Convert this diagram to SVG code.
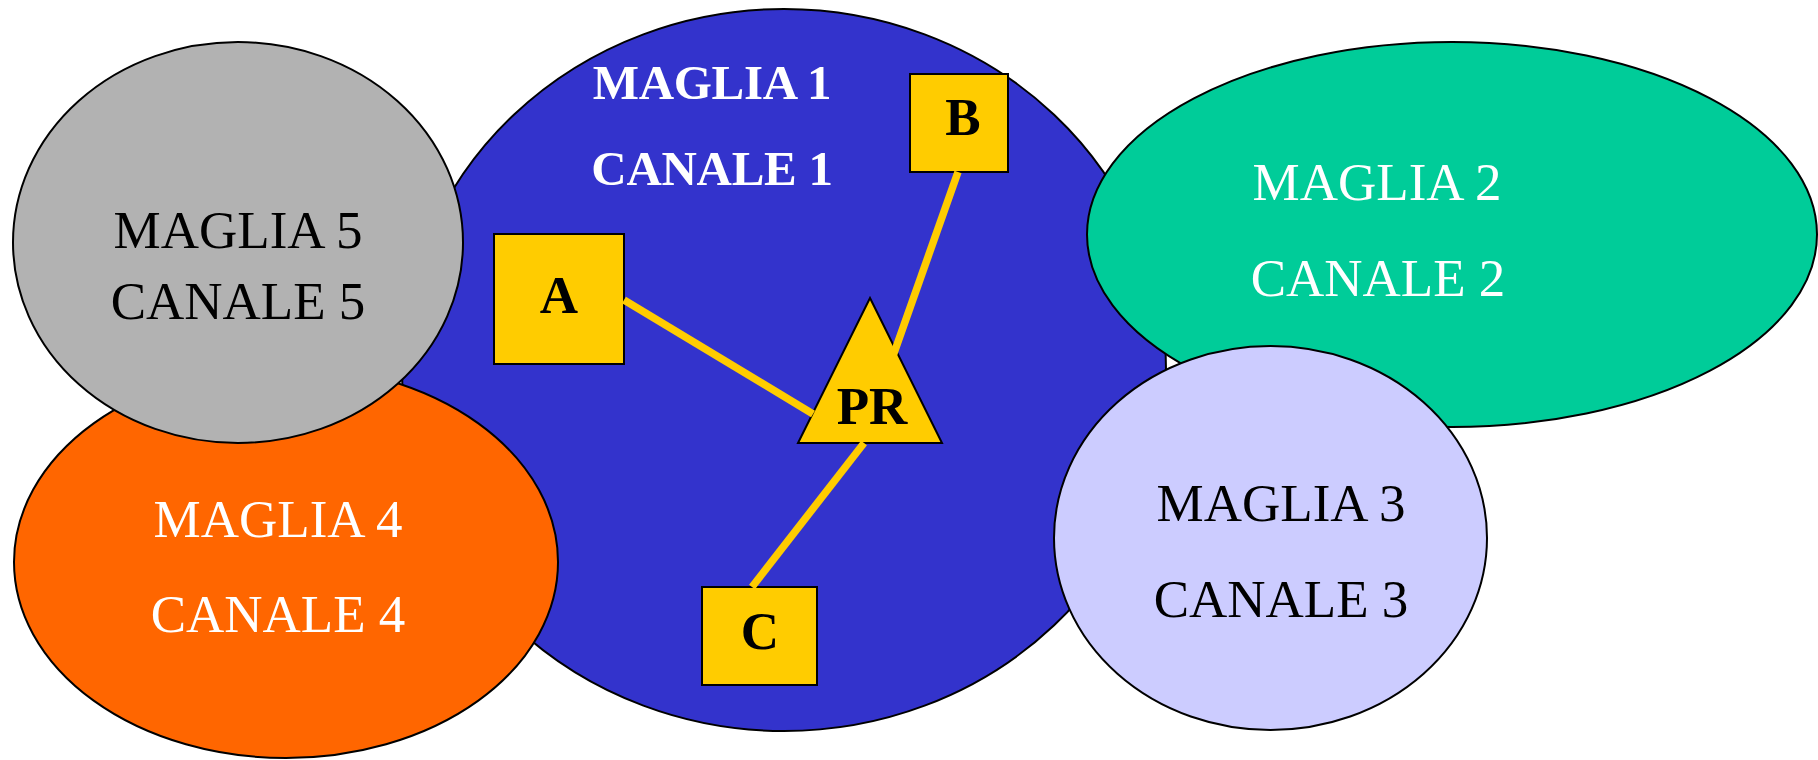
<svg xmlns="http://www.w3.org/2000/svg" width="1818" height="760" viewBox="0 0 1818 760">
<style>
.zone{stroke:#000;stroke-width:2}
.box{fill:#FFCC00;stroke:#000;stroke-width:2}
.lbl{font-family:"Liberation Serif","Times New Roman",serif;font-size:53px;text-anchor:middle}
.b1{font-family:"Liberation Serif","Times New Roman",serif;font-size:49px;font-weight:bold;fill:#fff;text-anchor:middle;letter-spacing:-0.3px}
.node{font-family:"Liberation Serif","Times New Roman",serif;font-size:53px;font-weight:bold;fill:#000;text-anchor:middle}
.link{stroke:#FFCC00;stroke-width:7.5;fill:none}
</style>
<rect width="1818" height="760" fill="#fff"/>
<g id="maglia1">
<ellipse class="zone" cx="784" cy="370" rx="382" ry="361" fill="#3333CC"/>
<text class="b1" x="712" y="99">MAGLIA 1</text>
<text class="b1" x="712" y="185">CANALE 1</text>
</g>
<g id="maglia4">
<ellipse class="zone" cx="286" cy="562" rx="272" ry="196" fill="#FF6600"/>
<text class="lbl" x="278" y="537" fill="#fff">MAGLIA 4</text>
<text class="lbl" x="278" y="632" fill="#fff">CANALE 4</text>
</g>
<g id="maglia5">
<ellipse class="zone" cx="238" cy="242.5" rx="225" ry="200.5" fill="#B2B2B2"/>
<text class="lbl" x="238" y="248" fill="#000">MAGLIA 5</text>
<text class="lbl" x="238" y="319" fill="#000">CANALE 5</text>
</g>
<g id="maglia2">
<ellipse class="zone" cx="1452" cy="234.5" rx="365" ry="192.5" fill="#00CC99"/>
<text class="lbl" x="1377" y="200" fill="#fff">MAGLIA 2</text>
<text class="lbl" x="1378" y="296" fill="#fff">CANALE 2</text>
</g>
<g id="maglia3">
<ellipse class="zone" cx="1270.5" cy="538" rx="216.5" ry="192" fill="#CCCCFF"/>
<text class="lbl" x="1281" y="521" fill="#000">MAGLIA 3</text>
<text class="lbl" x="1281" y="617" fill="#000">CANALE 3</text>
</g>
<g id="nodeA">
<rect class="box" x="494" y="234" width="130" height="130"/>
<text class="node" x="559" y="313">A</text>
</g>
<g id="nodeB">
<rect class="box" x="910" y="74" width="98" height="98"/>
<text class="node" x="963" y="135">B</text>
</g>
<g id="nodeC">
<rect class="box" x="702" y="587" width="115" height="98"/>
<text class="node" x="760" y="649">C</text>
</g>
<g id="nodePR">
<polygon class="box" points="870,298 942,443 798,443"/>
<text class="node" x="872" y="424">PR</text>
</g>
<g id="connectors">
<line class="link" x1="624" y1="300" x2="813" y2="414"/>
<line class="link" x1="958" y1="172" x2="893" y2="356"/>
<line class="link" x1="752" y1="587" x2="864" y2="443"/>
</g>
</svg>
